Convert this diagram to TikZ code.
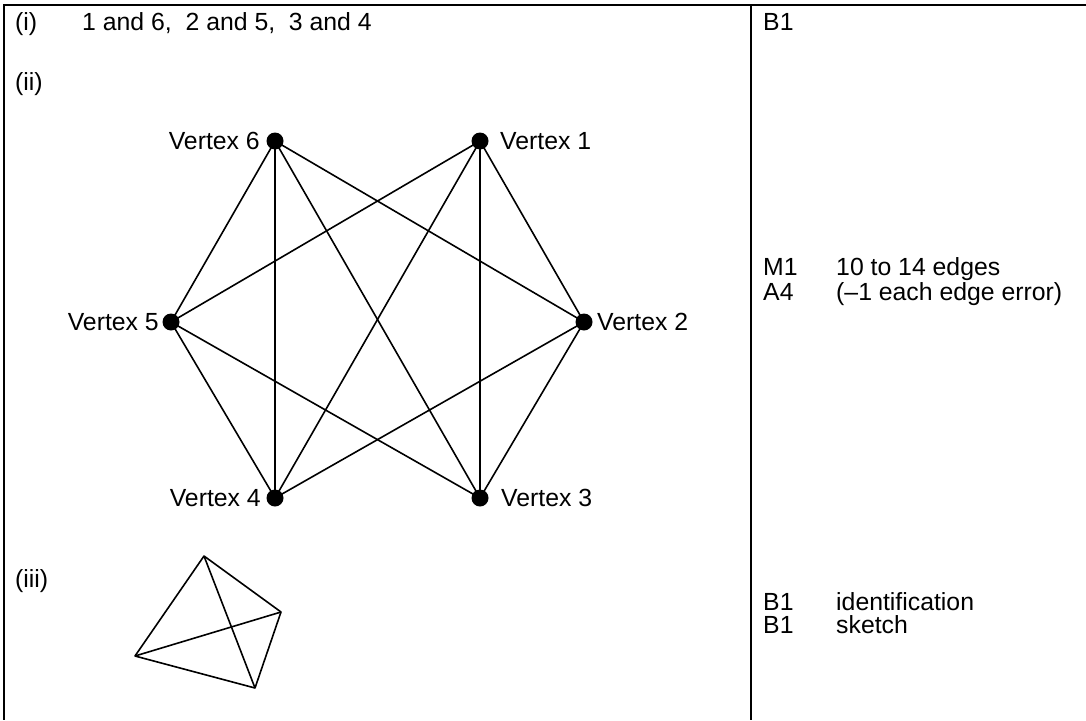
\documentclass[tikz,border=0pt]{standalone}
\usepackage{fontspec}
\setmainfont{Liberation Sans}
\begin{document}
\begin{tikzpicture}[x=1pt,y=-1pt,
  txt/.style={anchor=base west,inner sep=0pt,font=\fontsize{24.8}{29}\selectfont},
  ltxt/.style={anchor=base east,inner sep=0pt,font=\fontsize{24.8}{29}\selectfont},
  vdot/.style={circle,fill=black,inner sep=0pt,minimum size=17pt},
  sdot/.style={inner sep=0pt,minimum size=0pt},
  edge/.style={line width=1.6pt},
  frame/.style={line width=2.4pt}]
\useasboundingbox (0,0) rectangle (1086,720);
% frame
\coordinate (tl) at (4,5);
\coordinate (tr) at (1086,5);
\coordinate (bl) at (4,720);
\coordinate (mt) at (751,5);
\coordinate (mb) at (751,720);
\draw[frame] (tr) -- (tl) -- (bl);
\draw[frame] (mt) -- (mb);
% left column text
\node[txt] (ti) at (15,30) {(i)};
\node[txt] (tans) at (82,30) {1 and 6,\ \ 2 and 5,\ \ 3 and 4};
\node[txt] (tii) at (15,90) {(ii)};
\node[txt] (tiii) at (15,587) {(iii)};
% right column text
\node[txt] (m1) at (763,30) {B1};
\node[txt] (m2) at (763,275) {M1};
\node[txt] (m2t) at (836,275) {10 to 14 edges};
\node[txt] (m3) at (763,300) {A4};
\node[txt] (m3t) at (836,300) {(\textendash1 each edge error)};
\node[txt] (m4) at (763,610) {B1};
\node[txt] (m4t) at (836,610) {identification};
\node[txt] (m5) at (763,633) {B1};
\node[txt] (m5t) at (836,633) {sketch};
% graph (ii)
\node[vdot] (v6) at (275,141) {};
\node[vdot] (v1) at (480,141) {};
\node[vdot] (v2) at (584,322) {};
\node[vdot] (v3) at (480,498) {};
\node[vdot] (v4) at (275,498) {};
\node[vdot] (v5) at (171,322) {};
\foreach \a/\b in {v6/v5,v6/v4,v6/v3,v6/v2,v1/v5,v1/v4,v1/v3,v1/v2,v5/v4,v5/v3,v2/v4,v2/v3}
  \draw[edge] (\a.center) -- (\b.center);
\node[ltxt] (l6) at (260,149.5) {Vertex 6};
\node[txt]  (l1) at (500,149.5) {Vertex 1};
\node[txt]  (l2) at (597,330.5) {Vertex 2};
\node[txt]  (l3) at (501,506.5) {Vertex 3};
\node[ltxt] (l4) at (261,506.5) {Vertex 4};
\node[ltxt] (l5) at (159,330.5) {Vertex 5};
% sketch (iii)
\node[sdot] (a) at (204,556) {};
\node[sdot] (b) at (281,612) {};
\node[sdot] (c) at (135,656) {};
\node[sdot] (d) at (255,688) {};
\foreach \a/\b in {a/b,a/c,a/d,b/c,b/d,c/d}
  \draw[edge,line cap=round] (\a) -- (\b);
\end{tikzpicture}
\end{document}
